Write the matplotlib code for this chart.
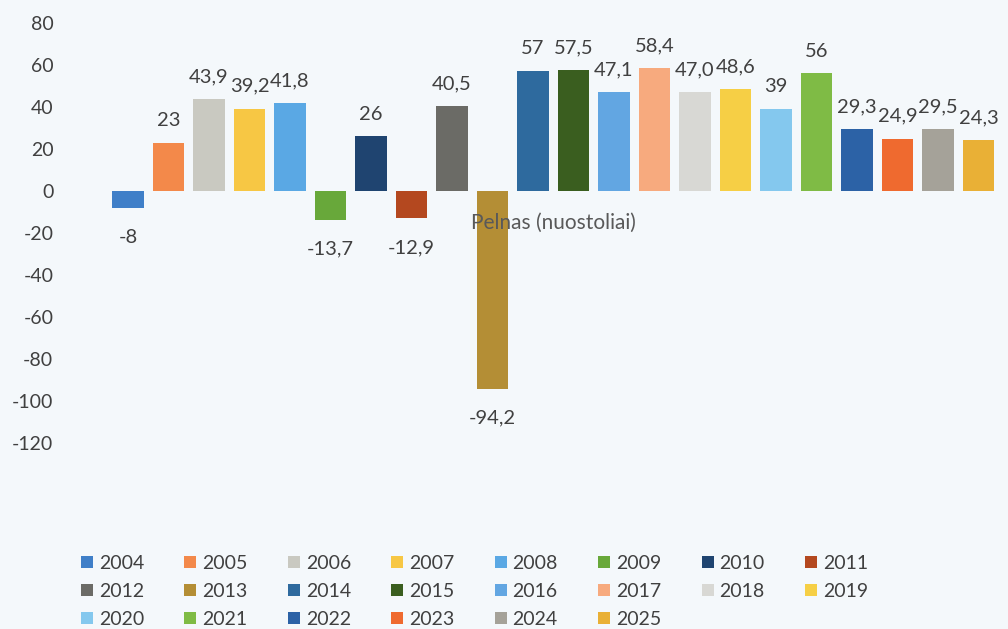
import matplotlib.pyplot as plt
from matplotlib.patches import Patch

plt.rcParams['font.family'] = ['Lato', 'DejaVu Sans']

# Data
years = ['2004', '2005', '2006', '2007', '2008', '2009', '2010', '2011',
         '2012', '2013', '2014', '2015', '2016', '2017', '2018', '2019',
         '2020', '2021', '2022', '2023', '2024', '2025']
profit = [-8, 23, 43.9, 39.2, 41.8, -13.7, 26, -12.9, 40.5, -94.2, 57,
          57.5, 47.1, 58.4, 47.0, 48.6, 39, 56, 29.3, 24.9, 29.5, 24.3]
value_labels = ['-8', '23', '43,9', '39,2', '41,8', '-13,7', '26', '-12,9',
                '40,5', '-94,2', '57', '57,5', '47,1', '58,4', '47,0', '48,6',
                '39', '56', '29,3', '24,9', '29,5', '24,3']
category = 'Pelnas (nuostoliai)'
y_ticks = [80, 60, 40, 20, 0, -20, -40, -60, -80, -100, -120]

colors = ['#3f7fc8', '#f3894a', '#c9c9c1', '#f7c744', '#5aa8e4', '#68a83a',
          '#1f4470', '#b4481f', '#6b6b66', '#b48e35', '#2e6a9e', '#3a5e1f',
          '#62a6e2', '#f7aa7e', '#d8d8d4', '#f6cf45', '#84c8ee', '#7fbb45',
          '#2c62a6', '#ef6a2f', '#a5a299', '#e9b036']

bg = '#f4f8fb'
text_col = '#404040'

fig = plt.figure(figsize=(10.08, 6.29), dpi=100, facecolor=bg)
ax = fig.add_axes([70 / 1008, (629 - 443) / 629, (1008 - 70) / 1008, 420 / 629])
ax.set_facecolor(bg)

# one clustered group: each year is its own series
for i, (yr, v) in enumerate(zip(years, profit)):
    ax.bar(i, v, width=0.78, color=colors[i], label=yr, zorder=2)
    if v >= 0:
        ax.annotate(value_labels[i], (i, v), xytext=(0, 10), textcoords='offset points',
                    ha='center', va='bottom', fontsize=14.5, color=text_col)
    else:
        ax.annotate(value_labels[i], (i, v), xytext=(0, -15), textcoords='offset points',
                    ha='center', va='top', fontsize=14.5, color=text_col)

# category label sits just under the zero line
ax.text((len(years) - 1) / 2, -15, category, ha='center', va='center',
        fontsize=15, color='#595959', zorder=3)

ax.set_xlim((70 - 128) / 40.5, (1008 - 128) / 40.5)
ax.set_ylim(-120, 80)
ax.set_yticks(y_ticks)
ax.set_yticklabels([str(t) for t in y_ticks])
ax.set_xticks([])
ax.tick_params(axis='y', length=0, pad=12, labelsize=14, labelcolor=text_col)
for s in ax.spines.values():
    s.set_visible(False)

# legend laid out row by row (matplotlib fills column by column)
ncol = 8
handles = [Patch(facecolor=c) for c in colors]
order = []
for j in range(ncol):
    order += list(range(j, len(years), ncol))
leg = fig.legend([handles[k] for k in order], [years[k] for k in order],
                 ncol=ncol, loc='upper left', bbox_to_anchor=(81 / 1008, 1 - 555 / 629),
                 frameon=False, fontsize=14, handlelength=0.62, handleheight=0.62,
                 handletextpad=0.3, columnspacing=2.07, labelspacing=0.56,
                 borderpad=0, borderaxespad=0)
for t in leg.get_texts():
    t.set_color(text_col)

plt.savefig('out.png', dpi=100, facecolor=bg)
